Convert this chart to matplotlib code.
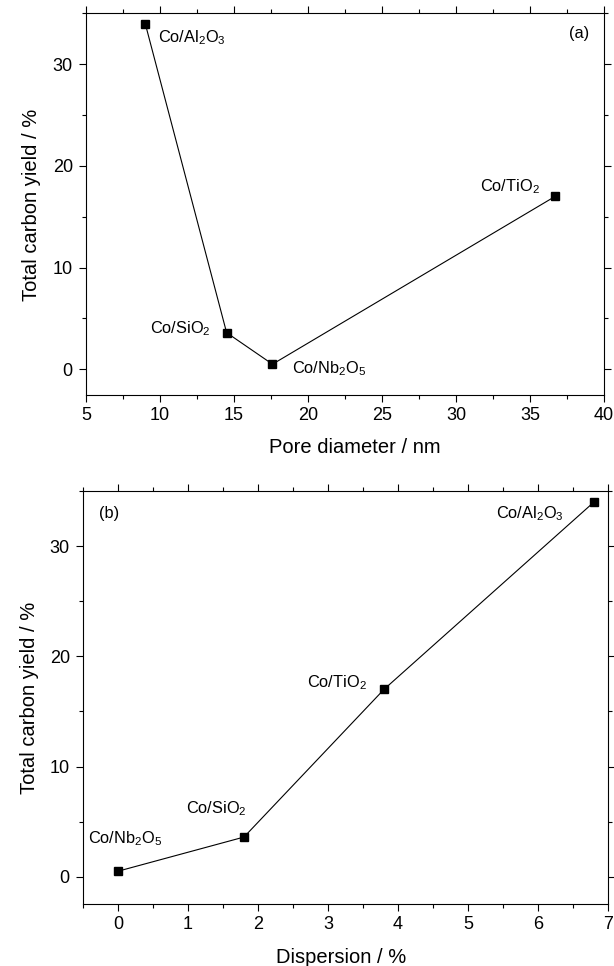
import numpy as np
import matplotlib
matplotlib.use("Agg")
import matplotlib.pyplot as plt
from matplotlib.ticker import MultipleLocator

plt.rcParams['font.family'] = ['Liberation Sans', 'DejaVu Sans']
plt.rcParams['mathtext.fontset'] = 'custom'
plt.rcParams['mathtext.rm'] = 'Liberation Sans'
plt.rcParams['mathtext.default'] = 'regular'

# data
catalysts = ['Co/Al$_2$O$_3$', 'Co/SiO$_2$', 'Co/Nb$_2$O$_5$', 'Co/TiO$_2$']
pore_diameter = [9.0, 14.5, 17.6, 36.7]
dispersion = [6.8, 1.8, 0.0, 3.8]
carbon_yield = [34.0, 3.6, 0.5, 17.0]

fig = plt.figure(figsize=(6.14, 9.66), dpi=100)
ax1 = fig.add_axes([0.1401, 0.5914, 0.8436, 0.3948])
ax2 = fig.add_axes([0.1352, 0.0639, 0.855, 0.4278])


def style(ax):
    ax.tick_params(which='both', direction='out', top=True, right=True,
                   labeltop=False, labelright=False, width=0.8, labelsize=13)
    ax.tick_params(which='major', length=5)
    ax.tick_params(which='minor', length=3)
    ax.tick_params(axis='x', pad=3.5)
    ax.tick_params(axis='y', pad=4.5)
    for s in ax.spines.values():
        s.set_linewidth(0.8)
    ax.set_ylim(-2.5, 35)
    ax.yaxis.set_major_locator(MultipleLocator(10))
    ax.yaxis.set_minor_locator(MultipleLocator(5))
    ax.set_ylabel('Total carbon yield / %', fontsize=14.5)
    ax.yaxis.label.set_va('baseline')


# (a) pore diameter
order_a = np.argsort(pore_diameter)
ax1.plot(np.array(pore_diameter)[order_a], np.array(carbon_yield)[order_a],
         '-', color='black', lw=0.8)
ax1.plot(pore_diameter, carbon_yield, 's', color='black', ms=5.8)
style(ax1)
ax1.set_xlim(5, 40)
ax1.xaxis.set_major_locator(MultipleLocator(5))
ax1.xaxis.set_minor_locator(MultipleLocator(2.5))
ax1.set_xlabel('Pore diameter / nm', fontsize=14.5)
ax1.xaxis.label.set_va('baseline')
ax1.xaxis.set_label_coords(0.518, -0.1536)
ax1.yaxis.set_label_coords(-0.0952, 0.497)
offs_a = [(13, -19, 'left'), (-16, -1, 'right'), (20, -9, 'left'), (-15, 5, 'right')]
for name, x, y, (dx, dy, ha) in zip(catalysts, pore_diameter, carbon_yield, offs_a):
    ax1.annotate(name, (x, y), xytext=(dx, dy), textcoords='offset pixels',
                 ha=ha, va='baseline', fontsize=11.8)
ax1.text(0.952, 0.9476, '(a)', transform=ax1.transAxes, ha='center', va='center',
         fontsize=11.8)

# (b) dispersion
order_b = np.argsort(dispersion)
ax2.plot(np.array(dispersion)[order_b], np.array(carbon_yield)[order_b],
         '-', color='black', lw=0.8)
ax2.plot(dispersion, carbon_yield, 's', color='black', ms=5.8)
style(ax2)
ax2.set_xlim(-0.5, 7)
ax2.xaxis.set_major_locator(MultipleLocator(1))
ax2.xaxis.set_minor_locator(MultipleLocator(0.5))
ax2.set_xlabel('Dispersion / %', fontsize=14.5)
ax2.xaxis.label.set_va('baseline')
ax2.xaxis.set_label_coords(0.491, -0.1428)
ax2.yaxis.set_label_coords(-0.0924, 0.5)
offs_b = [(-30, -16, 'right'), (3, 24, 'right'), (-30, 28, 'left'), (-17, 2, 'right')]
for name, x, y, (dx, dy, ha) in zip(catalysts, dispersion, carbon_yield, offs_b):
    ax2.annotate(name, (x, y), xytext=(dx, dy), textcoords='offset pixels',
                 ha=ha, va='baseline', fontsize=11.8)
ax2.text(0.049, 0.946, '(b)', transform=ax2.transAxes, ha='center', va='center',
         fontsize=11.8)

fig.savefig('out.png', dpi=100)
